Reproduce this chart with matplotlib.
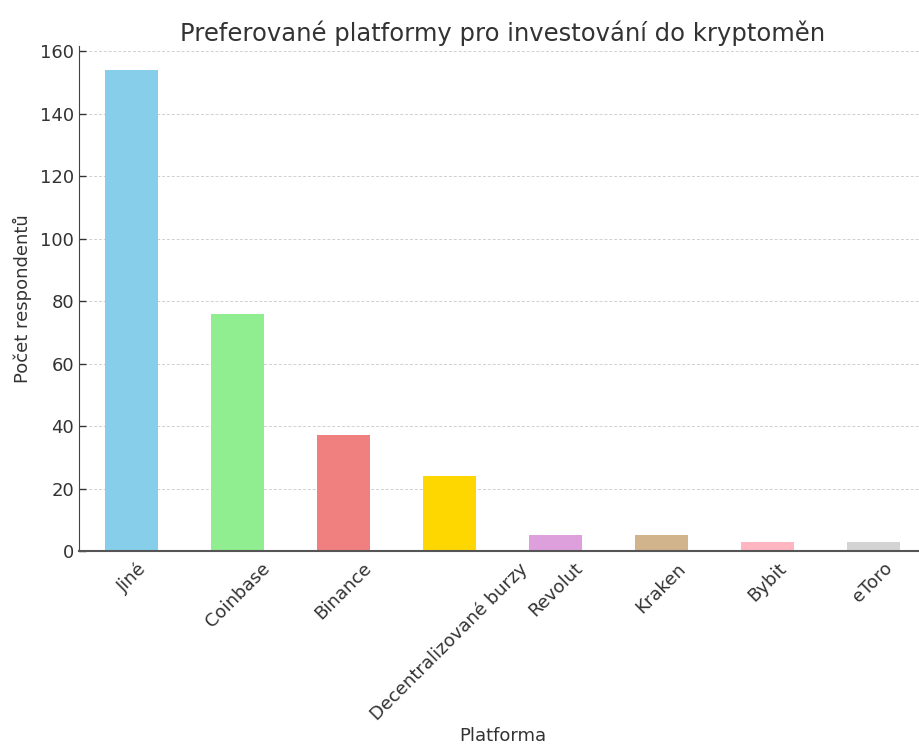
import matplotlib.pyplot as plt

# Data
platforms = ['Jiné', 'Coinbase', 'Binance', 'Decentralizované burzy',
             'Revolut', 'Kraken', 'Bybit', 'eToro']
counts = [154, 76, 37, 24, 5, 5, 3, 3]
colors = ['skyblue', 'lightgreen', 'lightcoral', 'gold',
          'plum', 'tan', 'lightpink', 'lightgray']

text_color = '#333333'
plt.rcParams['text.color'] = text_color
plt.rcParams['axes.labelcolor'] = text_color
plt.rcParams['xtick.color'] = text_color
plt.rcParams['ytick.color'] = text_color

fig = plt.figure(figsize=(9.2, 7.46), dpi=100)
ax = fig.add_axes([79 / 920, 1 - 551 / 746, (926 - 79) / 920, (551 - 45.7) / 746])

x = range(len(platforms))
ax.bar(x, counts, width=0.5, color=colors, zorder=2)
ax.set_xlim(-0.5, len(platforms) - 0.5)
ax.set_ylim(0, 161.7)

ax.set_xticks(list(x))
ax.set_xticklabels(platforms, rotation=45, ha='center', fontsize=13)
ax.tick_params(axis='y', labelsize=13)
ax.tick_params(direction='in', length=5, width=1)
ax.tick_params(axis='x', pad=6)

ax.set_title('Preferované platformy pro investování do kryptoměn', fontsize=17.5, pad=3)
ax.set_xlabel('Platforma', fontsize=13, labelpad=2)
ax.set_ylabel('Počet respondentů', fontsize=13, labelpad=6)

ax.grid(axis='y', linestyle=(0, (3, 2)), color='#d0d0d0', linewidth=0.7, zorder=0)
ax.spines['top'].set_visible(False)
ax.spines['right'].set_visible(False)
ax.spines['left'].set_color('#444444')
ax.spines['bottom'].set_color('#555555')
ax.spines['bottom'].set_linewidth(1.5)

fig.savefig('out.png', dpi=100)
